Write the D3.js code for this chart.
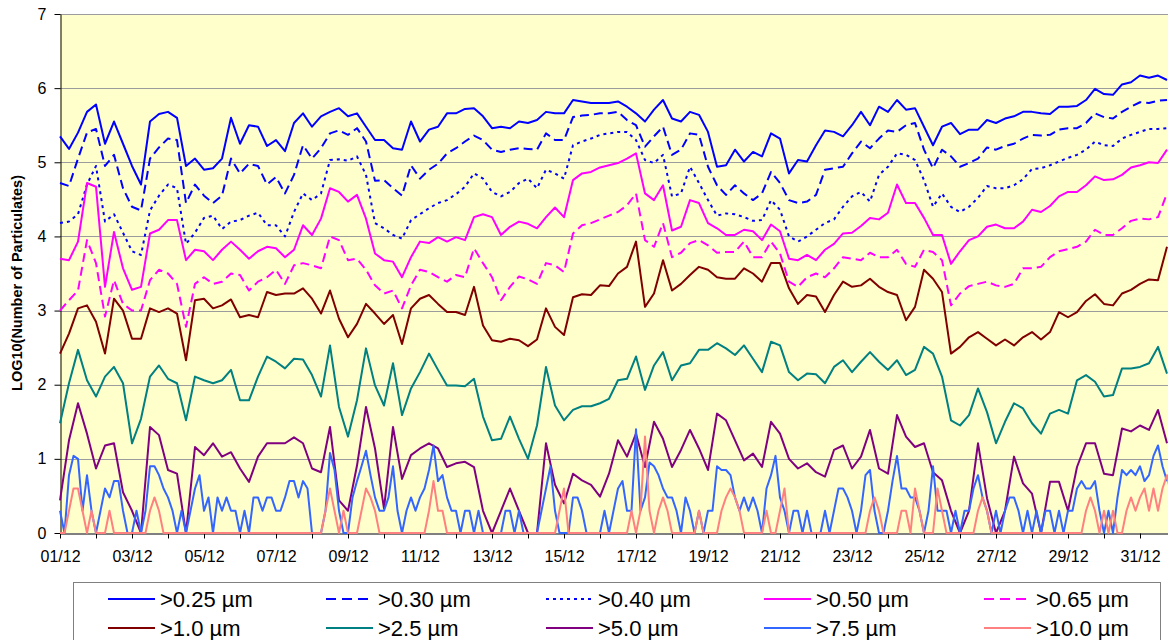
<!DOCTYPE html>
<html><head><meta charset="utf-8">
<script src="https://cdn.jsdelivr.net/npm/d3@7"></script>
<style>html,body{margin:0;padding:0;background:#fff;overflow:hidden;} svg{display:block;font-family:Arial,"Liberation Sans",sans-serif;}</style>
</head><body><svg id="c" width="1168" height="640"></svg>
<script>
// ---------- DATA ----------
const tickLabels = ["01/12","03/12","05/12","07/12","09/12","11/12","13/12","15/12","17/12","19/12","21/12","23/12","25/12","27/12","29/12","31/12"];
const sizeLabels = [">0.25 µm",">0.30 µm",">0.40 µm",">0.50 µm",">0.65 µm",">1.0 µm",">2.5 µm",">5.0 µm",">7.5 µm",">10.0 µm"];
const yTicks = [0,1,2,3,4,5,6,7];
const hoursCoarse = 6;   // sampling interval (h) of the first eight series, from 01/12 00:00
const hoursFine = 3;     // sampling interval (h) of the >7.5 and >10.0 series

const s025 = [5.35,5.18,5.40,5.68,5.78,5.25,5.55,5.25,4.95,4.70,5.55,5.65,5.68,5.60,4.95,5.05,4.90,4.92,5.05,5.60,5.25,5.50,5.48,5.22,5.30,
5.15,5.53,5.66,5.48,5.62,5.68,5.73,5.62,5.66,5.48,5.30,5.30,5.19,5.17,5.55,5.28,5.44,5.48,5.66,5.66,5.72,5.73,5.62,5.46,5.48,
5.46,5.55,5.53,5.57,5.68,5.66,5.66,5.84,5.82,5.80,5.80,5.80,5.82,5.75,5.66,5.55,5.71,5.84,5.59,5.55,5.68,5.64,5.41,4.94,
4.96,5.17,5.01,5.14,5.08,5.39,5.32,4.85,5.03,5.01,5.23,5.43,5.41,5.35,5.50,5.68,5.50,5.75,5.68,5.84,5.71,5.73,5.48,5.23,5.48,
5.53,5.38,5.44,5.44,5.57,5.53,5.59,5.62,5.68,5.68,5.66,5.65,5.75,5.75,5.76,5.84,5.99,5.92,5.91,6.05,6.08,6.17,6.14,6.17,6.11];

const s030 = [4.72,4.68,5.05,5.40,5.45,4.95,5.10,4.65,4.40,4.35,5.05,5.20,5.32,5.30,4.45,4.70,4.55,4.45,4.55,5.05,4.85,4.98,4.95,4.70,4.80,
4.58,4.83,5.23,5.05,5.19,5.39,5.43,5.37,5.46,5.28,4.75,4.76,4.65,4.55,4.96,4.78,4.90,4.98,5.12,5.19,5.28,5.36,5.30,5.17,5.14,
5.17,5.19,5.18,5.17,5.39,5.30,5.30,5.61,5.63,5.64,5.66,5.66,5.68,5.57,5.50,5.21,5.35,5.48,5.10,5.17,5.39,5.37,4.94,4.69,
4.56,4.69,4.58,4.49,4.58,4.87,4.72,4.49,4.45,4.47,4.56,4.90,4.92,4.94,5.12,5.28,5.19,5.32,5.43,5.41,5.50,5.53,5.17,4.92,5.17,
5.08,4.94,4.99,5.05,5.20,5.17,5.22,5.25,5.32,5.37,5.36,5.37,5.44,5.46,5.46,5.53,5.66,5.61,5.59,5.68,5.75,5.81,5.80,5.83,5.84];

const s040 = [4.18,4.20,4.30,4.70,4.95,4.20,4.30,4.05,3.80,3.75,4.35,4.55,4.70,4.65,3.90,4.05,4.25,4.28,4.10,4.20,4.22,4.28,4.32,4.15,4.15,
4.00,4.33,4.58,4.49,4.58,5.03,5.04,5.02,5.08,4.83,4.18,4.11,4.02,3.97,4.22,4.30,4.38,4.45,4.49,4.57,4.67,4.85,4.78,4.60,4.54,
4.60,4.72,4.78,4.65,4.90,4.85,4.78,5.23,5.28,5.32,5.37,5.39,5.41,5.41,5.30,5.03,4.99,5.10,4.54,4.58,4.94,4.72,4.49,4.28,
4.31,4.30,4.26,4.21,4.22,4.49,4.36,4.00,3.93,4.00,4.09,4.18,4.23,4.40,4.54,4.60,4.47,4.83,4.94,5.12,5.10,5.03,4.76,4.40,4.58,
4.40,4.33,4.40,4.52,4.68,4.65,4.65,4.69,4.77,4.91,4.92,4.96,5.01,5.06,5.10,5.17,5.28,5.23,5.22,5.32,5.37,5.41,5.45,5.45,5.46];

const s050 = [3.70,3.68,3.93,4.72,4.67,3.32,4.06,3.57,3.28,3.32,4.04,4.09,4.22,4.22,3.68,3.82,3.80,3.68,3.82,3.93,3.82,3.70,3.80,3.86,3.84,
3.72,3.82,4.15,4.02,4.24,4.65,4.60,4.47,4.56,4.24,3.77,3.68,3.66,3.45,3.72,3.93,3.91,3.99,3.93,3.99,3.95,4.26,4.30,4.26,4.02,
4.13,4.20,4.17,4.11,4.26,4.39,4.26,4.76,4.85,4.87,4.93,4.96,4.99,5.05,5.12,4.58,4.49,4.69,4.08,4.13,4.49,4.45,4.18,4.11,
4.02,4.02,4.09,4.07,3.95,4.16,4.07,3.70,3.68,3.75,3.68,3.82,3.90,4.04,4.05,4.14,4.25,4.23,4.32,4.70,4.45,4.45,4.25,4.02,4.02,
3.63,3.80,3.95,4.00,4.13,4.16,4.11,4.11,4.20,4.36,4.33,4.41,4.54,4.60,4.60,4.69,4.81,4.76,4.77,4.83,4.93,4.96,5.00,4.99,5.17];

const s065 = [3.00,3.14,3.27,3.95,3.64,2.92,3.41,3.09,3.00,3.00,3.41,3.55,3.50,3.36,2.78,3.36,3.45,3.36,3.39,3.50,3.48,3.27,3.39,3.45,3.55,
3.36,3.61,3.64,3.61,3.57,4.00,3.95,3.68,3.70,3.55,3.34,3.23,3.27,3.03,3.34,3.55,3.52,3.45,3.39,3.48,3.45,3.84,3.64,3.45,3.14,
3.32,3.46,3.42,3.36,3.64,3.61,3.52,4.04,4.15,4.18,4.23,4.28,4.33,4.42,4.58,3.95,3.86,4.18,3.72,3.78,3.91,3.95,3.88,3.78,
3.79,3.79,3.93,3.72,3.72,3.93,3.77,3.39,3.32,3.45,3.50,3.45,3.57,3.72,3.70,3.68,3.78,3.72,3.72,3.82,3.63,3.59,3.82,3.79,3.68,
3.07,3.23,3.33,3.36,3.39,3.34,3.32,3.36,3.57,3.57,3.59,3.72,3.80,3.83,3.86,3.93,4.09,4.02,4.02,4.11,4.21,4.24,4.23,4.26,4.58];

const s10 = [2.42,2.69,3.03,3.07,2.85,2.42,3.16,3.00,2.62,2.62,3.03,2.98,3.03,2.96,2.33,3.14,3.16,3.03,3.07,3.15,2.91,2.94,2.91,3.25,3.21,
3.23,3.23,3.30,3.16,2.96,3.27,2.89,2.64,2.82,3.09,2.96,2.82,2.94,2.55,3.03,3.16,3.21,3.09,2.98,2.98,2.94,3.32,2.80,2.60,2.58,
2.62,2.60,2.52,2.61,3.03,2.78,2.67,3.18,3.22,3.21,3.34,3.33,3.50,3.59,3.93,3.05,3.23,3.68,3.27,3.36,3.48,3.59,3.55,3.45,
3.43,3.43,3.57,3.50,3.39,3.64,3.64,3.30,3.09,3.21,3.19,2.98,3.21,3.39,3.32,3.34,3.43,3.32,3.25,3.21,2.87,3.05,3.55,3.43,3.25,
2.42,2.51,2.64,2.71,2.62,2.53,2.61,2.53,2.64,2.71,2.61,2.71,2.98,2.91,2.98,3.13,3.22,3.09,3.07,3.23,3.28,3.36,3.42,3.41,3.86];

const s25 = [1.48,2.02,2.47,2.06,1.84,2.11,2.24,2.02,1.21,1.54,2.11,2.26,2.08,2.02,1.52,2.11,2.06,2.02,2.06,2.20,1.79,1.79,2.11,2.38,2.31,
2.22,2.35,2.34,2.13,1.84,2.53,1.70,1.30,1.79,2.49,1.99,1.72,2.29,1.59,1.95,2.17,2.42,2.20,1.99,1.99,1.98,2.08,1.57,1.25,1.27,
1.57,1.27,1.00,1.45,2.24,1.72,1.52,1.66,1.71,1.71,1.75,1.81,2.06,2.08,2.38,1.93,2.26,2.44,2.06,2.26,2.29,2.47,2.47,2.56,
2.49,2.40,2.53,2.35,2.17,2.58,2.53,2.17,2.06,2.15,2.14,2.02,2.24,2.33,2.17,2.31,2.44,2.31,2.20,2.33,2.13,2.20,2.51,2.42,2.11,
1.52,1.45,1.59,1.95,1.63,1.21,1.50,1.75,1.68,1.48,1.34,1.61,1.66,1.61,2.06,2.13,2.04,1.84,1.86,2.22,2.22,2.24,2.29,2.51,2.15];

const s50 = [0.44,1.25,1.75,1.34,0.87,1.18,1.21,0.55,0.30,0,1.43,1.32,0.85,0.80,0,1.16,1.05,1.21,1.03,1.09,0.87,0.69,1.03,1.21,1.21,
1.21,1.29,1.21,0.87,0.82,1.43,0.44,0.30,0.91,1.70,1.14,0.33,1.43,0.73,1.05,1.14,1.21,1.14,0.89,0.94,0.96,0.89,0.30,0,0.30,
0.60,0.30,0,0,1.21,0.65,0.40,0.80,0.71,0.65,0.49,0.80,1.25,1.03,1.34,0.89,1.50,1.27,0.89,1.12,1.39,1.14,0.85,1.61,
1.52,1.25,0.98,1.07,0.89,1.50,1.34,1.00,0.87,0.94,0.82,0.76,1.12,1.18,0.87,1.03,1.39,0.87,0.80,1.59,1.30,1.16,1.21,0.82,0.71,
0.30,0,0.30,1.21,0.47,0,0.30,1.03,0.67,0.53,0,0.69,0.69,0.30,0.89,1.21,1.21,0.80,0.78,1.41,1.37,1.45,1.39,1.66,1.21];

const s75 = [0.30,0,0.78,1.04,1.00,0.30,0.78,0.30,0,0.30,0.60,0.48,0.70,0.70,0.30,0,0,0.30,0,0.30,0.90,0.90,0.78,0.60,0.48,0.30,0,0.30,0,0.30,0.60,0.78,0.30,0.48,0,0.48,0.30,0.48,0.30,0.30,0,0.30,0,0.48,0.48,0.30,0.48,0.48,0.30,
0.30,0.48,0.70,0.70,0.48,0.70,0.60,0,0,0,0.30,1.08,0.85,0.30,0,0,0.48,0.70,0.90,1.11,0.78,0.48,0.30,0.30,0.48,0.90,0.30,0,0.30,0.48,0.30,0.48,0.60,0.85,1.18,0.70,0.78,0.48,0.30,0.30,0,0.30,0.30,0,0.30,0,0,0,0,0,
0.30,0.30,0,0.30,0,0,0,0,0.30,0.60,0.90,0.30,0,0,0,0.48,0.48,0.30,0,0,0,0,0.30,0,0.30,0.60,0.70,0.30,0.30,1.40,0.30,0.48,0.95,0.90,0.78,0.60,0.48,0.48,0.30,0,0.48,0.30,0,0.30,0,0.30,0.30,0.90,0.85,
0.85,0.78,0.48,0.30,0.48,0.30,0.48,0.30,0,0.60,0.78,1.04,0.48,0.30,0,0.30,0.30,0,0.30,0,0,0,0.30,0,0.30,0.60,0.60,0.48,0.30,0,0.30,0.78,0.85,0.30,0,0,0.30,0.70,1.04,0.60,0.60,0.48,0.48,0.30,0,0.30,0.90,0.30,0.30,
0.30,0,0.30,0,0.30,0.30,0.60,0.78,0.48,0.30,0,0.30,0,0.30,0.48,0.48,0.30,0,0.30,0,0.30,0,0.30,0.30,0,0.30,0,0.30,0.30,0.60,0.70,0.60,0.60,0.70,0.30,0,0.30,0,0.48,0.85,0.78,0.85,0.78,0.90,0.70,0.78,1.04,1.18,0.90,0.70];

const s100 = [0,0,0.30,0.60,0.60,0.30,0,0.30,0,0,0,0.30,0,0,0,0,0,0,0,0,0.30,0.48,0.30,0,0,0,0,0,0,0,0,0,0,0,0,0,0,0,0,0,0,0,0,0,0,0,0,0,0,
0,0,0,0,0,0,0,0,0,0,0.30,0.60,0.30,0,0.30,0,0,0,0.30,0.60,0.48,0.30,0,0,0,0,0,0,0,0,0,0,0,0.30,0.70,0.30,0.30,0,0,0,0,0,0,0,0,0,0,0,0,0,0,0,0,
0,0,0,0,0,0,0,0,0,0.30,0.60,0,0,0,0,0,0,0,0,0,0,0,0,0,0,0.30,0,0.30,1.30,0.30,0,0.30,0.48,0.30,0,0,0,0,0,0,0.30,0,0,0,0,0.30,0.48,0.60,
0.48,0.30,0,0,0,0,0,0.30,0,0,0.30,0.60,0,0,0,0,0,0,0,0,0,0,0,0,0,0,0,0,0,0,0.30,0.48,0.30,0,0,0,0,0.30,0.30,0,0.60,0.30,0,0,0,0.60,0.30,0,0,
0,0,0,0,0,0.30,0.48,0.30,0,0,0,0,0,0,0,0,0,0,0,0,0,0,0,0,0,0,0,0,0,0.30,0.48,0.30,0,0.30,0,0.30,0,0,0.30,0.48,0.30,0.48,0.60,0.30,0.60,0.30,0.60,0.78,0.48,0.30];

// ---------- STYLE ----------
const seriesValues = [s025, s030, s040, s050, s065, s10, s25, s50, s75, s100];
const seriesHours = [hoursCoarse,hoursCoarse,hoursCoarse,hoursCoarse,hoursCoarse,hoursCoarse,hoursCoarse,hoursCoarse,hoursFine,hoursFine];
const colors = ["#0000FF","#0000FF","#0000FF","#FF00FF","#FF00FF","#800000","#008080","#800080","#3366FF","#FF8080"];
const dashes = [null,"9,5","3,4",null,"9,5",null,null,null,null,null];

const svg = d3.select("#c");
const plotLeft = 60, plotRight = 1168;
const x = d3.scaleLinear().domain([0, 31]).range([60, 1176]);
const y = d3.scaleLinear().domain([0, 7]).range([533, 14]);

// plot background
svg.append("rect").attr("x", plotLeft).attr("y", y(7)).attr("width", plotRight - plotLeft).attr("height", y(0) - y(7)).attr("fill", "#FFFFCC");

// grid lines
svg.append("g").selectAll("line").data(yTicks.filter(d => d > 0)).join("line")
  .attr("x1", plotLeft).attr("x2", plotRight)
  .attr("y1", d => Math.round(y(d)) + 0.5).attr("y2", d => Math.round(y(d)) + 0.5)
  .attr("stroke", "#9c9c9c").attr("stroke-width", 1);

// axes
const xAxis = d3.axisBottom(x).tickValues(d3.range(0, 32)).tickSize(5).tickSizeOuter(0).tickPadding(12)
  .tickFormat(d => d % 2 === 0 ? tickLabels[d / 2] : "");
const gx = svg.append("g").attr("transform", `translate(0,${Math.round(y(0)) + 0.5})`).call(xAxis);
gx.attr("font-size", 16).attr("font-family", "Arial, 'Liberation Sans', sans-serif");
gx.selectAll("path,line").attr("stroke", "#000");

const yAxis = d3.axisLeft(y).tickValues(yTicks).tickSize(6).tickSizeOuter(0).tickPadding(8).tickFormat(d3.format("d"));
const gy = svg.append("g").attr("transform", `translate(${plotLeft + 0.5},0)`).call(yAxis);
gy.attr("font-size", 16).attr("font-family", "Arial, 'Liberation Sans', sans-serif");
gy.selectAll("path,line").attr("stroke", "#000");

// y title
svg.append("text").attr("transform", "translate(22,283) rotate(-90)")
  .attr("text-anchor", "middle").attr("font-size", 14.5).attr("font-weight", "bold")
  .text("LOG10(Number of Particulates)");

// series
svg.append("clipPath").attr("id", "clip").append("rect")
  .attr("x", plotLeft - 2).attr("y", y(7) - 2).attr("width", plotRight - plotLeft + 2).attr("height", y(0) - y(7) + 4);
const gLines = svg.append("g").attr("clip-path", "url(#clip)");
seriesValues.forEach((vals, k) => {
  const step = seriesHours[k] / 24;
  const line = d3.line().x((d, i) => x(i * step)).y(d => y(d));
  const p = gLines.append("path").datum(vals).attr("d", line)
    .attr("fill", "none").attr("stroke", colors[k]).attr("stroke-width", 2)
    .attr("stroke-linejoin", "round");
  if (dashes[k]) p.attr("stroke-dasharray", dashes[k]);
});

// legend
const lg = svg.append("g");
lg.append("rect").attr("x", 73.5).attr("y", 582.5).attr("width", 1087).attr("height", 80)
  .attr("fill", "#fff").attr("stroke", "#808080").attr("stroke-width", 1);
const legendCols = [108, 326, 546, 764, 984];
const legendRows = [599, 628];
sizeLabels.forEach((name, k) => {
  const lx = legendCols[k % 5], ly = legendRows[Math.floor(k / 5)];
  const l = lg.append("line").attr("x1", lx).attr("x2", lx + 47).attr("y1", ly).attr("y2", ly)
    .attr("stroke", colors[k]).attr("stroke-width", 2);
  if (dashes[k]) l.attr("stroke-dasharray", k === 2 ? "3,4" : "10,6");
  lg.append("text").attr("x", lx + 52).attr("y", ly + 8).attr("font-size", 22).text(name);
});
</script>
</body></html>
